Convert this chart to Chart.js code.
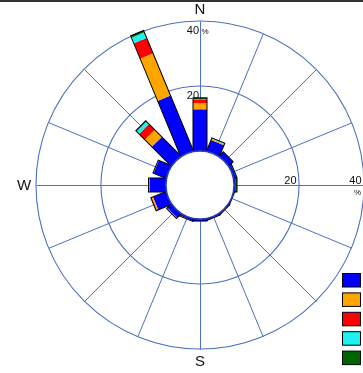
<!DOCTYPE html>
<html>
<head>
<meta charset="utf-8">
<script src="https://cdn.jsdelivr.net/npm/chart.js@4.4.1/dist/chart.umd.min.js"></script>
<style>
  html, body { margin: 0; padding: 0; background: #fff; overflow: hidden; }
  #wrap { position: relative; width: 400px; height: 373px; }
  #topline { position: absolute; left: 0; top: 0; width: 100%; height: 2px; background: #333; z-index: 2; }
</style>
</head>
<body>
<div id="wrap">
  <div id="topline"></div>
  <canvas id="rose"></canvas>
</div>
<script>
// Wind directions, 16 sectors clockwise from north
const directions = ['N','NNE','NE','ENE','E','ESE','SE','SSE','S','SSW','SW','WSW','W','WNW','NW','NNW'];
const compass = { N: 'N', E: 'E', S: 'S', W: 'W' };

// Frequency (%) per speed class, one value per direction
const speedClasses = ['0 - 2', '2 - 4', '4 - 6', '6 - 8', '> 8'];
const class1 = [12.8, 3.6, 1.7, 0.7, 0.3, 0.2, 0.3, 0.4, 0.6, 0.6, 1.6, 4.3, 4.9, 4.1, 8.3, 18.4];
const class2 = [1.9, 0.35, 0, 0, 0, 0, 0, 0, 0, 0.1, 0.3, 0.5, 0.15, 0.2, 3.1, 14.1];
const class3 = [1.0, 0.05, 0, 0, 0, 0, 0, 0, 0, 0, 0, 0.2, 0.3, 0, 2.5, 5.1];
const class4 = [0.15, 0.2, 0, 0, 0, 0, 0, 0, 0, 0, 0, 0, 0, 0, 1.1, 1.9];
const class5 = [0.5, 0.1, 0.1, 0.2, 0.6, 0, 0, 0, 0, 0, 0, 0, 0, 0, 0.3, 0.6];

// Radial tick labels
const ringTicks = [20, 40];
const unitLabel = '%';

const classColors = ['#0000ff', '#ffa500', '#ff0000', '#1ef0f0', '#006400'];
const GRID = 'rgb(74,114,191)';
const BAR_W = 14;
const R_MIN = -10.5;   // leaves the calm hole in the middle
const R_MAX = 40;

const series = [class1, class2, class3, class4, class5];

const roseBars = {
  id: 'roseBars',
  beforeDatasetsDraw(chart) {
    // direction spokes, from the calm circle out to the outer ring
    const s = chart.scales.r;
    const ctx = chart.ctx;
    const inner = s.getDistanceFromCenterForValue(0);
    const outer = s.getDistanceFromCenterForValue(R_MAX);
    ctx.save();
    ctx.translate(0.5, 0.5);   // keep the axis-aligned spokes on whole pixels
    ctx.lineCap = 'butt';
    ctx.strokeStyle = GRID;
    ctx.lineWidth = 1;
    chart.data.labels.forEach((lab, i) => {
      const a = s.getPointPosition(i, inner);
      const p = s.getPointPosition(i, outer);
      ctx.beginPath();
      ctx.moveTo(a.x, a.y);
      ctx.lineTo(p.x, p.y);
      ctx.stroke();
    });
    ctx.restore();
  },
  afterDatasetsDraw(chart) {
    const s = chart.scales.r;
    const ctx = chart.ctx;
    const base = s.getDistanceFromCenterForValue(0);
    const n = chart.data.labels.length;
    const sets = chart.data.datasets;

    // stacked bars
    for (let i = 0; i < n; i++) {
      const ang = s.getIndexAngle(i);
      ctx.save();
      ctx.translate(s.xCenter, s.yCenter);
      ctx.rotate(ang);
      let cum = 0;
      sets.forEach((ds, k) => {
        const v = ds.data[i];
        if (!v) return;
        const r0 = k === 0 ? base - 3 : s.getDistanceFromCenterForValue(cum);
        cum += v;
        const r1 = s.getDistanceFromCenterForValue(cum);
        ctx.fillStyle = ds.backgroundColor;
        ctx.fillRect(-BAR_W / 2, -r1, BAR_W, r1 - r0);
      });
      const top = s.getDistanceFromCenterForValue(cum);
      ctx.strokeStyle = '#000';
      ctx.lineWidth = 1;
      ctx.strokeRect(-BAR_W / 2, -top, BAR_W, top - base + 3);
      ctx.restore();
    }

    // calm hole
    ctx.save();
    ctx.beginPath();
    ctx.arc(s.xCenter, s.yCenter, base, 0, Math.PI * 2);
    ctx.fillStyle = '#fff';
    ctx.fill();
    ctx.lineWidth = 1.6;
    ctx.strokeStyle = '#2a3faa';
    ctx.stroke();
    ctx.restore();

    // ring labels
    ctx.save();
    ctx.fillStyle = '#111';
    ctx.textBaseline = 'alphabetic';
    ctx.font = '11px "Liberation Sans", Arial, sans-serif';
    ringTicks.forEach(t => {
      const r = s.getDistanceFromCenterForValue(t);
      ctx.textAlign = 'right';
      ctx.fillText(String(t), s.xCenter - 1, s.yCenter - r + 13);
      ctx.fillText(String(t), s.xCenter + r - 2.5, s.yCenter - 1);
    });
    const rTop = s.getDistanceFromCenterForValue(ringTicks[ringTicks.length - 1]);
    ctx.font = '8px "Liberation Sans", Arial, sans-serif';
    ctx.textAlign = 'left';
    ctx.fillText(unitLabel, s.xCenter + 1.5, s.yCenter - rTop + 13);
    ctx.textAlign = 'right';
    ctx.fillText(unitLabel, s.xCenter + rTop - 3, s.yCenter + 10);
    ctx.restore();

    // compass letters
    ctx.save();
    ctx.fillStyle = '#111';
    ctx.font = '15px "Liberation Sans", Arial, sans-serif';
    ctx.textAlign = 'center';
    ctx.textBaseline = 'middle';
    chart.data.labels.forEach((lab, i) => {
      if (!compass[lab]) return;
      const p = s.getPointPosition(i, s.drawingArea + 12);
      ctx.fillText(compass[lab], p.x, p.y + 1);
    });
    ctx.restore();

    // legend
    ctx.save();
    const lx = 342.5, ly = 273.5, bw = 18, bh = 13.5, gap = 19.4;
    ctx.font = '11px "Liberation Sans", Arial, sans-serif';
    ctx.textBaseline = 'middle';
    ctx.textAlign = 'left';
    sets.forEach((ds, k) => {
      const y = ly + k * gap;
      ctx.fillStyle = ds.backgroundColor;
      ctx.fillRect(lx, y, bw, bh);
      ctx.strokeStyle = '#000';
      ctx.lineWidth = 1;
      ctx.strokeRect(lx, y, bw, bh);
      ctx.fillStyle = '#111';
      ctx.fillText(ds.label, lx + bw + 6, y + bh / 2);
    });
    ctx.restore();
  }
};

new Chart(document.getElementById('rose'), {
  type: 'radar',
  data: {
    labels: directions,
    datasets: series.map((d, k) => ({
      label: speedClasses[k],
      data: d,
      backgroundColor: classColors[k],
      borderColor: 'rgba(0,0,0,0)',
      borderWidth: 0,
      pointRadius: 0,
      showLine: false,
      fill: false
    }))
  },
  options: {
    responsive: true,
    maintainAspectRatio: false,
    animation: false,
    layout: { padding: { top: 21, bottom: 23, left: 0, right: 0 } },
    plugins: { legend: { display: false }, tooltip: { enabled: false } },
    scales: {
      r: {
        min: R_MIN,
        max: R_MAX,
        startAngle: 0,
        afterBuildTicks: (scale) => {
          scale.ticks = [{ value: R_MIN }].concat(ringTicks.map(v => ({ value: v })));
        },
        ticks: { display: false },
        pointLabels: { display: false },
        angleLines: { display: false },
        grid: {
          circular: true,
          lineWidth: 1.1,
          color: (c) => (c.tick && ringTicks.includes(c.tick.value)) ? GRID : 'rgba(0,0,0,0)'
        }
      }
    }
  },
  plugins: [roseBars]
});
</script>
</body>
</html>
